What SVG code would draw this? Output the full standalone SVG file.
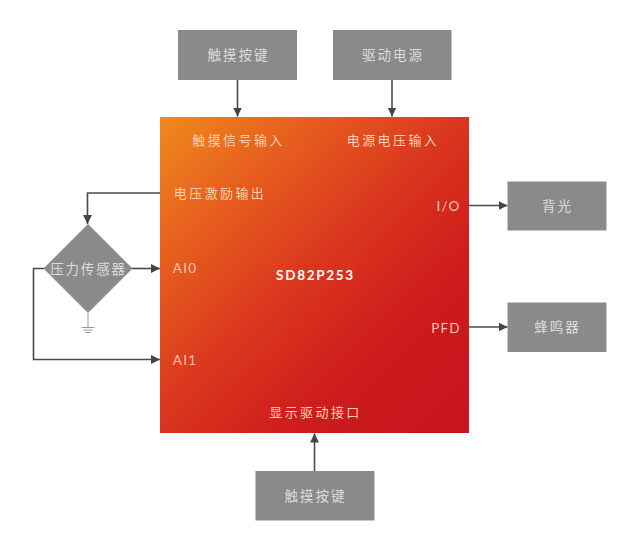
<svg xmlns="http://www.w3.org/2000/svg" width="640" height="551" viewBox="0 0 640 551">
<style>
text{font-family:"Noto Sans CJK SC","Liberation Sans",sans-serif;text-anchor:middle;dominant-baseline:central}
.box{fill:#8a8a8a}
.bl{font-size:13.500px;fill:#dcdcdc;letter-spacing:2px}
.cl{font-size:13px;fill:#f8cfb4;letter-spacing:2.400px}
.pin{font-family:"Lato","Liberation Sans",sans-serif;font-size:13.500px;letter-spacing:1.200px;fill:#f9c4b4}
.line{fill:none;stroke:#4a4a4a;stroke-width:1.600}
.thin{fill:none;stroke:#999;stroke-width:1}
</style>
<defs>
<linearGradient id="chipGrad" gradientUnits="userSpaceOnUse" x1="160" y1="117" x2="469" y2="433">
<stop offset="0" stop-color="#ef8a1d"/>
<stop offset="0.25" stop-color="#e65c1e"/>
<stop offset="0.5" stop-color="#d9341e"/>
<stop offset="0.72" stop-color="#cd1c1c"/>
<stop offset="1" stop-color="#c5141e"/>
</linearGradient>
<marker id="arrow" markerUnits="userSpaceOnUse" markerWidth="10" markerHeight="10" refX="9" refY="5" orient="auto">
<path d="M0 0.500L9 5L0 9.500Z" fill="#444"/>
</marker>
</defs>
<g id="connectors">
<path class="line" marker-end="url(#arrow)" d="M237.500 80V116.500"/>
<path class="line" marker-end="url(#arrow)" d="M392 80V116.500"/>
<path class="line" marker-end="url(#arrow)" d="M314.500 471V433.500"/>
<path class="line" marker-end="url(#arrow)" d="M469 205.500H507.500"/>
<path class="line" marker-end="url(#arrow)" d="M469 327H507.500"/>
<path class="line" marker-end="url(#arrow)" d="M160 193H87.500V224"/>
<path class="line" marker-end="url(#arrow)" d="M132 268.500H160"/>
<path class="line" marker-end="url(#arrow)" d="M44 268.500H33.500V359.500H160"/>
<path class="thin" d="M88 313V327M81.500 327.500H94.500M83.500 330H92.500M85.500 332.500H90.500"/>
</g>
<g id="chip">
<rect x="160" y="117" width="309" height="316" fill="url(#chipGrad)"/>
<text class="cl" x="238.500" y="139">触摸信号输入</text>
<text class="cl" x="393" y="139">电源电压输入</text>
<text class="cl" x="220" y="192">电压激励输出</text>
<text class="pin" x="185" y="268">AI0</text>
<text class="pin" x="185" y="359.500">AI1</text>
<text class="pin" x="448.500" y="205.500">I/O</text>
<text class="pin" x="446" y="327.500">PFD</text>
<text x="315.500" y="275" font-size="13.500" font-weight="700" letter-spacing="1.700" fill="#fff" style="font-family:'Lato','Liberation Sans',sans-serif">SD82P253</text>
<text class="cl" x="315.500" y="411">显示驱动接口</text>
</g>
<g id="touch-top"><rect class="box" x="178" y="30" width="119" height="50"/><text class="bl" x="238.500" y="54">触摸按键</text></g>
<g id="power"><rect class="box" x="333" y="30" width="118.500" height="50"/><text class="bl" x="393" y="54">驱动电源</text></g>
<g id="backlight"><rect class="box" x="507.500" y="181.500" width="99" height="49"/><text class="bl" x="557.500" y="205">背光</text></g>
<g id="buzzer"><rect class="box" x="507.500" y="302.500" width="99" height="49.500"/><text class="bl" x="557.500" y="326">蜂鸣器</text></g>
<g id="touch-bottom"><rect class="box" x="255.500" y="471" width="119" height="49.500"/><text class="bl" x="315.500" y="495">触摸按键</text></g>
<g id="sensor"><path class="box" d="M88 224L132.500 268.500L88 313L43.500 268.500Z"/><text class="bl" x="88.500" y="268" style="letter-spacing:1.800px">压力传感器</text></g>
</svg>
